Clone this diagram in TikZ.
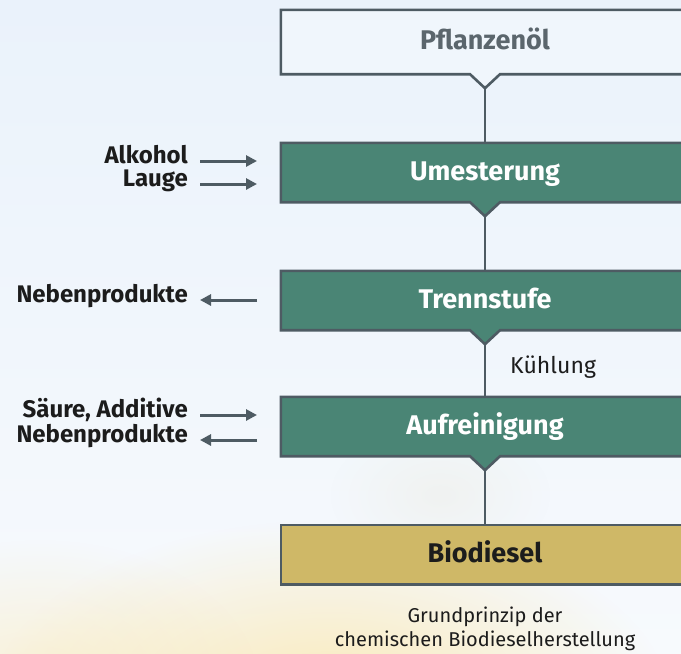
\documentclass[tikz,border=0pt]{standalone}
\usepackage{fontspec}
\setmainfont{Fira Sans}
\usetikzlibrary{arrows.meta,fadings}

\definecolor{bgtop}{HTML}{EAF2FB}
\definecolor{bgbot}{HTML}{F7FAFD}
\definecolor{glow}{HTML}{FBE6AA}
\definecolor{haze}{HTML}{ECEBE2}
\definecolor{frame}{HTML}{4E5B63}
\definecolor{stage}{HTML}{4A8575}
\definecolor{product}{HTML}{CFB867}
\definecolor{feedfill}{HTML}{F0F6FC}
\definecolor{feedtext}{HTML}{5B666D}
\definecolor{ink}{HTML}{1C1C1C}

\tikzfading[name=glowfade, inner color=transparent!0, outer color=transparent!100]

\pgfdeclarelayer{shade}
\pgfdeclarelayer{back}
\pgfsetlayers{shade,back,main}

\begin{document}
\begin{tikzpicture}[x=1pt, y=-1pt,
  boxtitle/.style={minimum width=408pt, minimum height=59pt, inner sep=0pt,
    text height=19pt, text depth=4pt, font=\fontsize{27}{30}\selectfont\bfseries},
  frameline/.style={draw=frame, line width=2.6pt, line join=miter},
  link/.style={draw=frame, line width=2.4pt},
  flow/.style={draw=frame, line width=3pt, -{Triangle[length=11pt,width=11pt]}},
  sidelabel/.style={inner sep=0pt, text=ink, anchor=mid east,
    font=\fontsize{24}{27}\selectfont\bfseries},
  note/.style={inner sep=0pt, text=ink, font=\fontsize{23}{26}\selectfont},
]
\useasboundingbox (0,0) rectangle (681,654);

% soft background with a warm glow at the bottom
\begin{pgfonlayer}{shade}
  \clip (0,0) rectangle (681,654);
  \fill[top color=bgtop, bottom color=bgbot] (0,0) rectangle (681,654);
  \fill[haze, opacity=0.45, path fading=glowfade] (440,495) ellipse [x radius=110pt, y radius=70pt];
  \fill[glow, opacity=0.85, path fading=glowfade] (330,705) ellipse [x radius=340pt, y radius=185pt];
  \fill[glow, opacity=0.5, path fading=glowfade] (40,690) ellipse [x radius=220pt, y radius=150pt];
\end{pgfonlayer}

% process stages
\node[boxtitle, minimum height=64pt, text=feedtext] (p) at (485,42) {Pflanzenöl};
\node[boxtitle, text=white] (u) at (485,172.5) {Umesterung};
\node[boxtitle, text=white] (t) at (485,300.5) {Trennstufe};
\node[boxtitle, text=white] (a) at (485,426.5) {Aufreinigung};
\node[boxtitle, text=ink] (b) at (485,554.5) {Biodiesel};

% box outlines, with a notch under each stage that feeds the next one
\begin{pgfonlayer}{back}
  \foreach \n/\c in {p/feedfill, u/stage, t/stage, a/stage}{
    \path[frameline, fill=\c] (\n.north west) -- (\n.north east) -- (\n.south east)
      -- ([xshift=15pt]\n.south) -- ([yshift=-14pt]\n.south)
      -- ([xshift=-15pt]\n.south) -- (\n.south west) -- cycle;
  }
  \path[frameline, fill=product] (b.north west) rectangle (b.south east);
\end{pgfonlayer}

\coordinate (p-tip) at ([yshift=-14pt]p.south);
\coordinate (u-tip) at ([yshift=-14pt]u.south);
\coordinate (t-tip) at ([yshift=-14pt]t.south);
\coordinate (a-tip) at ([yshift=-14pt]a.south);

\draw[link] (p-tip) -- (u.north);
\draw[link] (u-tip) -- (t.north);
\draw[link] (t-tip) -- (a.north);
\draw[link] (a-tip) -- (b.north);

\node[note, anchor=base west] (k) at (510,373) {Kühlung};

% inputs and outputs at the side
\node[sidelabel] (alk) at (188,161) {Alkohol};
\node[sidelabel] (lau) at (188,184) {Lauge};
\node[sidelabel] (nb1) at (188,300) {Nebenprodukte};
\node[sidelabel] (sae) at (188,415) {Säure, Additive};
\node[sidelabel] (nb2) at (188,440) {Nebenprodukte};

\coordinate (alk-in) at (257,161);
\coordinate (lau-in) at (257,184);
\coordinate (nb1-out) at (257,300);
\coordinate (sae-in) at (257,415);
\coordinate (nb2-out) at (257,440);

\draw[flow] ([xshift=12pt]alk.mid east) -- (alk-in);
\draw[flow] ([xshift=12pt]lau.mid east) -- (lau-in);
\draw[flow] (nb1-out) -- ([xshift=12pt]nb1.mid east);
\draw[flow] ([xshift=12pt]sae.mid east) -- (sae-in);
\draw[flow] (nb2-out) -- ([xshift=12pt]nb2.mid east);

% caption
\node[inner sep=0pt, align=center, text=ink, font=\fontsize{20}{23.5}\selectfont]
  (cap) at (485,629) {Grundprinzip der\\chemischen Biodieselherstellung};
\end{tikzpicture}
\end{document}
